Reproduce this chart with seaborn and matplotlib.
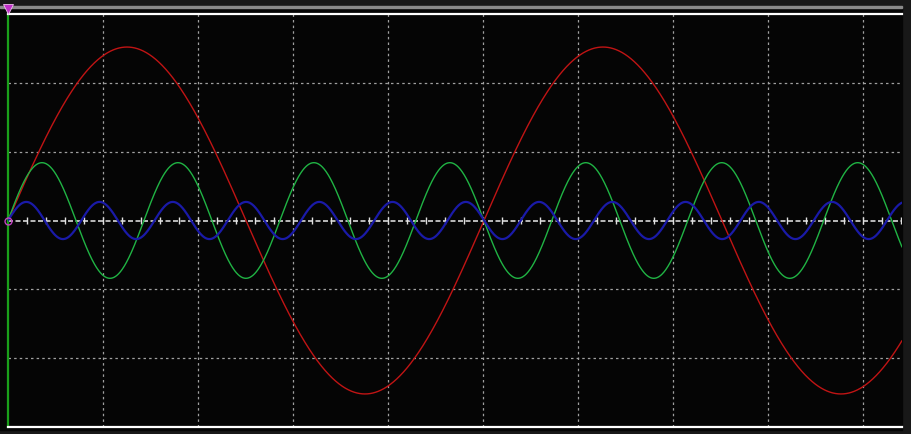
import numpy as np
import pandas as pd
import matplotlib.pyplot as plt
import seaborn as sns

# scope traces (divisions)
channels = ["CH1", "CH2", "CH3"]
amplitudes = [2.52, 0.84, 0.27]      # peak, in vertical divisions
periods = [5.01, 1.431, 0.771]       # in horizontal divisions
colors = ["#c01414", "#20b444", "#1a1aa8"]
widths = [1.0, 1.0, 1.6]

x_span = 9.41   # visible time span (divisions)
y_span = 3      # +/- divisions

t = np.linspace(0, x_span, 3000)
frames = []
for name, amp, per in zip(channels, amplitudes, periods):
    frames.append(pd.DataFrame({"t": t, "v": amp * np.sin(2 * np.pi * t / per), "ch": name}))
df = pd.concat(frames, ignore_index=True)

sns.set_theme(style="dark")
fig = plt.figure(figsize=(9.12, 4.35), dpi=100)
fig.patch.set_facecolor("#181818")

# black screen area + grey top rule (kept behind the axes)
fig.patches.append(plt.Rectangle((0, 1 - 431 / 435), 902 / 912, (431 - 9) / 435,
                                 transform=fig.transFigure, color="#050505", zorder=-10))
fig.patches.append(plt.Rectangle((0, 1 - 9 / 435), 902 / 912, 2 / 435,
                                 transform=fig.transFigure, color="#8a8a8a", zorder=-10))

ax = fig.add_axes([8 / 912, 1 - 428 / 435, 894 / 912, 413 / 435])
ax.set_facecolor("#050505")

# graticule
ax.set_xticks(range(1, 10))
ax.set_yticks([-2, -1, 1, 2])
ax.grid(True, color="#a0a0a0", linestyle=(0, (2, 2.5)), linewidth=0.9)
ax.tick_params(length=0, labelbottom=False, labelleft=False)
ax.axhline(0, color="#d8d8d8", linestyle=(0, (3, 1.5)), linewidth=1.2, zorder=1)
ax.vlines(np.arange(0.2, x_span, 0.2), -0.045, 0.045, color="#e0e0e0", linewidth=1, zorder=1)

sns.lineplot(data=df, x="t", y="v", hue="ch", palette=colors, size="ch",
             sizes=dict(zip(channels, widths)), legend=False, ax=ax, zorder=3)

ax.set_xlim(0, x_span)
ax.set_ylim(-y_span, y_span)
ax.set_xlabel("")
ax.set_ylabel("")

for side in ["top", "bottom"]:
    ax.spines[side].set_color("white")
    ax.spines[side].set_linewidth(1.6)
ax.spines["left"].set_color("#1aa01a")
ax.spines["left"].set_linewidth(1.6)
ax.spines["right"].set_visible(False)

# trigger / ground markers
ax.plot([0], [3.07], marker="v", markersize=7, color="#c030c8",
        markeredgecolor="#f0c0f0", markeredgewidth=0.6, clip_on=False, zorder=5)
ax.plot([0], [0], marker="o", markersize=5, markerfacecolor="none",
        markeredgecolor="#c040c0", clip_on=False, zorder=5)

fig.savefig("out.png", dpi=100, facecolor=fig.get_facecolor())
